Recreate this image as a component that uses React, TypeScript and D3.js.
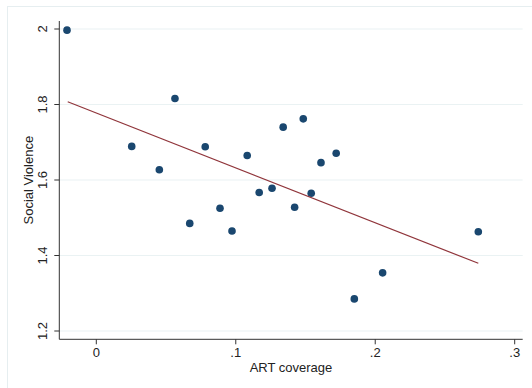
import { useEffect, useRef } from 'react';
import * as d3 from 'd3';

// ART coverage (x) vs Social Violence (y)
const artCoverage = [
  -0.021, 0.0254, 0.0452, 0.0564, 0.0781, 0.1082, 0.1168, 0.134, 0.1484, 0.1611,
  0.172, 0.126, 0.1541, 0.067, 0.0887, 0.0973, 0.1422, 0.2739, 0.2053, 0.185,
];
const socialViolence = [
  1.997, 1.689, 1.627, 1.816, 1.688, 1.665, 1.567, 1.74, 1.762, 1.646,
  1.671, 1.578, 1.565, 1.485, 1.525, 1.465, 1.528, 1.463, 1.354, 1.285,
];
// fitted line endpoints
const fitX = [-0.0205, 0.2739];
const fitY = [1.8074, 1.3793];

const xTicks = [0, 0.1, 0.2, 0.3];
const xTickLabels = ['0', '.1', '.2', '.3'];
const yTicks = [1.2, 1.4, 1.6, 1.8, 2];
const yTickLabels = ['1.2', '1.4', '1.6', '1.8', '2'];

const App = () => {
  const svgRef = useRef<SVGSVGElement>(null);

  useEffect(() => {
    const svg = d3.select(svgRef.current);
    svg.selectAll('*').remove();

    const width = 532;
    const height = 388;
    const left = 59.3;
    const right = 522.7;
    const top = 21;
    const bottom = 339.3;
    const font = 'Liberation Sans, Arial, sans-serif';

    svg.attr('width', width).attr('height', height);

    // outer frame
    svg
      .append('rect')
      .attr('x', 7.5)
      .attr('y', 6.5)
      .attr('width', 540)
      .attr('height', 400)
      .attr('fill', 'white')
      .attr('stroke', '#e6eef0')
      .attr('stroke-width', 1);

    const x = d3.scaleLinear().domain([0, 0.3]).range([96.3, 514.7]);
    const y = d3.scaleLinear().domain([1.2, 2]).range([331, 29]);

    // gridlines
    svg
      .selectAll('.grid')
      .data(yTicks)
      .enter()
      .append('line')
      .attr('x1', left)
      .attr('x2', right)
      .attr('y1', d => y(d))
      .attr('y2', d => y(d))
      .attr('stroke', '#eaf2f3')
      .attr('stroke-width', 1.2);

    // axes
    svg
      .append('line')
      .attr('x1', left)
      .attr('x2', left)
      .attr('y1', top)
      .attr('y2', bottom)
      .attr('stroke', '#333')
      .attr('stroke-width', 1);
    svg
      .append('line')
      .attr('x1', left)
      .attr('x2', right)
      .attr('y1', bottom)
      .attr('y2', bottom)
      .attr('stroke', '#333')
      .attr('stroke-width', 1);

    // y ticks + labels
    yTicks.forEach((t, i) => {
      svg
        .append('line')
        .attr('x1', left - 5)
        .attr('x2', left)
        .attr('y1', y(t))
        .attr('y2', y(t))
        .attr('stroke', '#333');
      svg
        .append('text')
        .attr('transform', `translate(47,${y(t)}) rotate(-90)`)
        .attr('text-anchor', 'middle')
        .style('font-family', font)
        .style('font-size', '13px')
        .style('fill', '#222')
        .text(yTickLabels[i]);
    });

    // x ticks + labels
    xTicks.forEach((t, i) => {
      svg
        .append('line')
        .attr('x1', x(t))
        .attr('x2', x(t))
        .attr('y1', bottom)
        .attr('y2', bottom + 5)
        .attr('stroke', '#333');
      svg
        .append('text')
        .attr('x', x(t))
        .attr('y', 357)
        .attr('text-anchor', 'middle')
        .style('font-family', font)
        .style('font-size', '13px')
        .style('fill', '#222')
        .text(xTickLabels[i]);
    });

    // axis titles
    svg
      .append('text')
      .attr('x', (left + right) / 2)
      .attr('y', 372)
      .attr('text-anchor', 'middle')
      .style('font-family', font)
      .style('font-size', '13px')
      .style('fill', '#222')
      .text('ART coverage');
    svg
      .append('text')
      .attr('transform', `translate(33,${(top + bottom) / 2}) rotate(-90)`)
      .attr('text-anchor', 'middle')
      .style('font-family', font)
      .style('font-size', '13px')
      .style('fill', '#222')
      .text('Social Violence');

    // points
    svg
      .selectAll('.pt')
      .data(artCoverage)
      .enter()
      .append('circle')
      .attr('cx', d => x(d))
      .attr('cy', (d, i) => y(socialViolence[i]))
      .attr('r', 3.8)
      .attr('fill', '#1a476f');

    // fitted line
    const line = d3
      .line<number>()
      .x(d => x(d))
      .y((d, i) => y(fitY[i]));
    svg
      .append('path')
      .attr('d', line(fitX))
      .attr('fill', 'none')
      .attr('stroke', '#90353b')
      .attr('stroke-width', 1.2);
  }, []);

  return (
    <div style={{ position: 'absolute', left: 0, top: 0 }}>
      <svg ref={svgRef} style={{ display: 'block' }}></svg>
    </div>
  );
};

export default App;
